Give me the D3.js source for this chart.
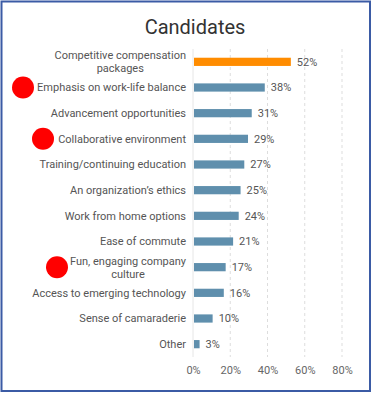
<!DOCTYPE html>
<html>
<head>
<meta charset="utf-8">
<script src="https://cdn.jsdelivr.net/npm/d3@7"></script>
<style>
  body { margin: 0; background: #fff; }
  svg { display: block; font-family: Roboto, "Noto Sans", sans-serif; }
</style>
</head>
<body>
<div id="chart"></div>
<script>
// data
const categories = [
    ["Competitive compensation", "packages"],
    ["Emphasis on work-life balance"],
    ["Advancement opportunities"],
    ["Collaborative environment"],
    ["Training/continuing education"],
    ["An organization\u2019s ethics"],
    ["Work from home options"],
    ["Ease of commute"],
    ["Fun, engaging company", "culture"],
    ["Access to emerging technology"],
    ["Sense of camaraderie"],
    ["Other"]
];
const values = [52, 38, 31, 29, 27, 25, 24, 21, 17, 16, 10, 3];
const highlighted = [1, 3, 8];   // rows marked with a red dot
const tickValues = [0, 20, 40, 60, 80];

const width = 372, height = 393;
const margin = {top: 49, right: 30, bottom: 38, left: 193};

const svg = d3.select("#chart").append("svg")
    .attr("width", width)
    .attr("height", height);

// frame
svg.append("rect")
    .attr("x", 1.5).attr("y", 1.5)
    .attr("width", width - 3.5).attr("height", height - 3.5)
    .attr("fill", "none")
    .attr("stroke", "#3b5ba5")
    .attr("stroke-width", 2);

svg.append("text")
    .attr("x", 195)
    .attr("y", 34)
    .attr("text-anchor", "middle")
    .attr("font-size", "20px")
    .attr("fill", "#333")
    .text("Candidates");

let x = d3.scaleLinear()
    .domain([0, 80])
    .range([margin.left, 342]);

let y = d3.scaleBand()
    .domain(d3.range(values.length))
    .range([49, 357])
    .paddingInner(0.68)
    .paddingOuter(0.34);

// gridlines
svg.append("g")
    .selectAll("line")
    .data(tickValues.slice(1))
    .enter().append("line")
    .attr("x1", d => x(d)).attr("x2", d => x(d))
    .attr("y1", 49).attr("y2", 357)
    .attr("stroke", "#ddd")
    .attr("stroke-dasharray", "3,3");

svg.append("line")
    .attr("x1", x(0)).attr("x2", x(0))
    .attr("y1", 49).attr("y2", 357)
    .attr("stroke", "#e6e6e6");

// x axis
let xAxis = svg.append("g")
    .attr("transform", "translate(0, 357)")
    .call(d3.axisBottom(x).tickValues(tickValues).tickFormat(d => d + "%").tickSize(0).tickPadding(9));
xAxis.select(".domain").remove();
xAxis.selectAll("text")
    .attr("font-size", "11px")
    .attr("fill", "#666")
    .attr("font-family", "Roboto, sans-serif");

// bars
svg.append("g")
    .selectAll("rect")
    .data(values)
    .enter().append("rect")
    .attr("x", x(0) + 1)
    .attr("y", (d, i) => y(i))
    .attr("width", d => x(d) - x(0))
    .attr("height", y.bandwidth())
    .attr("fill", (d, i) => i === 0 ? "#ff8c00" : "#5f8fad");

// value labels
svg.append("g")
    .selectAll("text")
    .data(values)
    .enter().append("text")
    .attr("x", d => x(d) + 7)
    .attr("y", (d, i) => y(i) + y.bandwidth() / 2)
    .attr("dy", "0.35em")
    .attr("font-size", "11px")
    .attr("fill", "#555")
    .text(d => d + "%");

// category labels
let labels = svg.append("g")
    .selectAll("text")
    .data(categories)
    .enter().append("text")
    .attr("x", 186)
    .attr("y", (d, i) => y(i) + y.bandwidth() / 2 - (d.length - 1) * 6.5)
    .attr("text-anchor", "end")
    .attr("font-size", "11px")
    .attr("fill", "#555");

labels.each(function(d) {
    let t = d3.select(this);
    d.forEach((line, j) => {
        t.append("tspan")
            .attr("x", j === 0 ? 186 : 186 - 0)
            .attr("dy", j === 0 ? "0.35em" : "13px")
            .text(line);
    });
});
// second line of wrapped labels is centred under the first
labels.each(function(d) {
    if (d.length < 2) return;
    let spans = d3.select(this).selectAll("tspan").nodes();
    let w0 = spans[0].getComputedTextLength();
    d3.select(spans[1])
        .attr("x", 186 - w0 / 2)
        .attr("text-anchor", "middle");
});

// red markers
const dotX = [23, 43, 57];
svg.append("g")
    .selectAll("circle")
    .data(highlighted)
    .enter().append("circle")
    .attr("cx", (d, i) => dotX[i])
    .attr("cy", d => y(d) + y.bandwidth() / 2 + (categories[d].length - 1) * 0)
    .attr("r", 11)
    .attr("fill", "#ff0000");
</script>
</body>
</html>
